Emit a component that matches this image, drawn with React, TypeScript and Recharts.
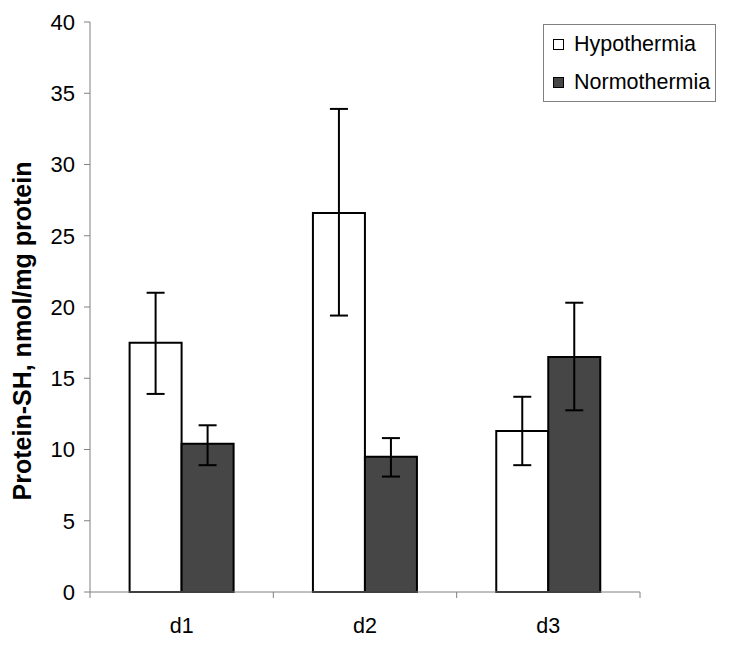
import { BarChart, Bar, XAxis, YAxis, ErrorBar, Legend } from 'recharts';

const DAYS = ['d1', 'd2', 'd3'];
const HYPO = [17.5, 26.6, 11.3];
const HYPO_LOW = [13.9, 19.4, 8.9];
const HYPO_HIGH = [21.0, 33.9, 13.7];
const NORMO = [10.4, 9.5, 16.5];
const NORMO_LOW = [8.9, 8.1, 12.75];
const NORMO_HIGH = [11.7, 10.8, 20.3];
const Y_TICKS = [0, 5, 10, 15, 20, 25, 30, 35, 40];

const FONT = '"Liberation Sans", Arial, sans-serif';
const DARK = '#464646';
const AXIS = '#808080';
const X_TICK_SIZE = 6;
const X_TICK_MARGIN = 20;

const data = DAYS.map((day, i) => ({
  day,
  hypo: HYPO[i],
  hypoErr: [HYPO[i] - HYPO_LOW[i], HYPO_HIGH[i] - HYPO[i]],
  normo: NORMO[i],
  normoErr: [NORMO[i] - NORMO_LOW[i], NORMO_HIGH[i] - NORMO[i]],
}));

const LEGEND_ITEMS = [
  { label: 'Hypothermia', fill: '#ffffff' },
  { label: 'Normothermia', fill: DARK },
];

function LegendBox() {
  return (
    <div style={{ width: 171, height: 76, border: `1px solid ${AXIS}`, background: '#fff', fontFamily: FONT, fontSize: 21.5, color: '#000' }}>
      {LEGEND_ITEMS.map((it, i) => (
        <div key={it.label} style={{ display: 'flex', alignItems: 'center', height: 39, paddingLeft: 9, marginTop: i === 0 ? 0 : -1 }}>
          <span style={{ display: 'inline-block', width: 9, height: 9, border: '1px solid #000', background: it.fill, marginRight: 10 }} />
          <span>{it.label}</span>
        </div>
      ))}
    </div>
  );
}

function YLabel() {
  return (
    <text x={31} y={331} transform="rotate(-90 31 331)" textAnchor="middle" fontFamily={FONT} fontWeight="bold" fontSize={25} fill="#000">
      Protein-SH, nmol/mg protein
    </text>
  );
}

// category label plus Excel-style tick marks on the band edges
function DayTick(props: any) {
  const { x, y, payload, index } = props;
  const half = payload.offset || 0;
  const axisY = y - X_TICK_SIZE - X_TICK_MARGIN;
  return (
    <g>
      <line x1={x - half} x2={x - half} y1={axisY} y2={axisY + X_TICK_SIZE} stroke={AXIS} />
      {index === DAYS.length - 1 && (
        <line x1={x + half} x2={x + half} y1={axisY} y2={axisY + X_TICK_SIZE} stroke={AXIS} />
      )}
      <text x={x} y={y} dy="0.71em" textAnchor="middle" fontFamily={FONT} fontSize={21.5} fill="#000">
        {payload.value}
      </text>
    </g>
  );
}

export default function App() {
  return (
    <div style={{ position: 'absolute', left: 0, top: 0, background: '#fff' }}>
      <BarChart width={730} height={649} data={data} margin={{ top: 22, right: 90, left: 30, bottom: 27 }} barCategoryGap="21.6%" barGap={0}>
        <XAxis dataKey="day" height={30} axisLine={{ stroke: AXIS }} tickLine={false} tickSize={X_TICK_SIZE} tickMargin={X_TICK_MARGIN}
          tick={<DayTick />} interval={0} />
        <YAxis domain={[0, 40]} ticks={Y_TICKS} width={60} tickSize={6} tickMargin={9} stroke={AXIS}
          tick={{ fontSize: 22, fill: '#000', fontFamily: FONT }} interval={0} label={<YLabel />} />
        <Legend layout="horizontal" verticalAlign="middle" align="center" content={<LegendBox />}
          wrapperStyle={{ top: 24, left: 543, width: 173, height: 78 }} />
        <Bar dataKey="hypo" name="Hypothermia" fill="#ffffff" stroke="#000" strokeWidth={2} isAnimationActive={false}>
          <ErrorBar dataKey="hypoErr" direction="y" width={9} stroke="#000" strokeWidth={2} />
        </Bar>
        <Bar dataKey="normo" name="Normothermia" fill={DARK} stroke="#000" strokeWidth={2} isAnimationActive={false}>
          <ErrorBar dataKey="normoErr" direction="y" width={9} stroke="#000" strokeWidth={2} />
        </Bar>
      </BarChart>
    </div>
  );
}
